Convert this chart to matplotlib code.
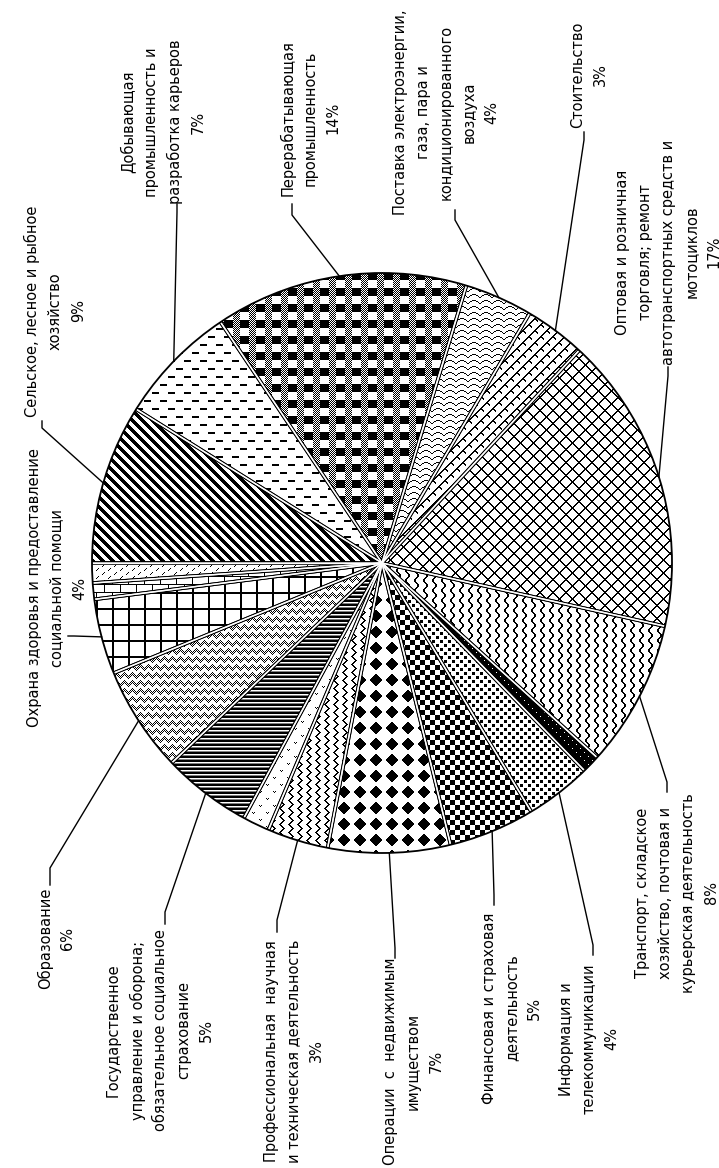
import numpy as np
import matplotlib
matplotlib.use("Agg")
from matplotlib import pyplot as plt
from matplotlib.patches import Circle

# shares of employment by activity, clockwise from 9 o'clock
names = [
    "Сельское, лесное и рыбное\nхозяйство",
    "Добывающая\nпромышленность и\nразработка карьеров",
    "Перерабатывающая\nпромышленность",
    "Поставка электроэнергии,\nгаза, пара и\nкондиционированного\nвоздуха",
    "Стоительство",
    "Оптовая и розничная\nторговля; ремонт\nавтотранспортных средств и\nмотоциклов",
    "Транспорт, складское\nхозяйство, почтовая и\nкурьерская деятельность",
    "Гостиницы и общественное питание",
    "Информация и\nтелекоммуникации",
    "Финансовая и страховая\nдеятельность",
    "Операции  с  недвижимым\nимуществом",
    "Профессиональная  научная\nи техническая деятельность",
    "Административная деятельность",
    "Государственное\nуправление и оборона;\nобязательное социальное\nстрахование",
    "Образование",
    "Охрана здоровья и предоставление\nсоциальной помощи",
    "Искусство, развлечения и отдых",
    "Прочие виды услуг",
]
values = [8.9, 6.7, 14.1, 3.8, 3.4, 16.6, 8.2, 1.0, 3.7, 4.8,
          6.8, 3.4, 1.5, 5.0, 5.9, 4.2, 0.9, 1.1]
labelled = [True, True, True, True, True, True, True, False, True, True,
            True, True, False, True, True, True, False, False]

W, H = 719, 1168
CX, CY, R = 382, 563, 290   # pie centre / radius in pixels


def px(x, y):
    return (x - CX) / R, (CY - y) / R


# label layout in pixels: text centre, elbow, attach point
layout = {
    0: ((55, 311), (42, 428), (42, 421)),
    1: ((163, 122), (177, 212), (177, 204)),
    2: ((310, 118), (292, 215), (292, 204)),
    3: ((446, 112), (455, 220), (455, 210)),
    4: ((589, 75), (584, 140), (584, 132)),
    5: ((668, 252), (668, 376), (668, 367)),
    6: ((677, 893), (667, 782), (667, 792)),
    8: ((589, 1039), (593, 945), (593, 955)),
    9: ((512, 1008), (494, 895), (494, 905)),
    10: ((413, 1061), (395, 948), (395, 958)),
    11: ((294, 1051), (277, 920), (277, 932)),
    13: ((160, 1030), (165, 912), (165, 924)),
    14: ((56, 938), (50, 868), (50, 885)),
    15: ((57, 588), (74, 636), (68, 636)),
}


# ---- fill patterns (1 = black) ----
def rows2tile(rows):
    return np.array([[1.0 if c == "#" else 0.5 if c == "+" else 0.0 for c in r] for r in rows])


def diag(p, w):
    i, j = np.indices((p, p))
    return ((j - i) % p < w).astype(float)


def dashes():
    t = np.zeros((16, 16))
    t[0:2, 0:7] = 1
    t[8:10, 8:15] = 1
    return t


def plaid():
    t = np.zeros((16, 16))
    t[0:8, 0:9] = 1
    i, j = np.indices((16, 7))
    t[:, 9:16] = ((i + j) % 2 == 0)
    return t


scallop = rows2tile([
    "....####....",
    "..##....##..",
    ".#........#.",
    "#..........#",
    "............",
    "............",
])


def brick_diag():
    i, j = np.indices((12, 12))
    main = (i + j) % 12 < 2
    tick = ((j - i) % 12 < 2) & ((i + j) % 12 < 7)
    return (main | tick).astype(float)


def cross(p):
    i, j = np.indices((p, p))
    return (((i + j) % p < 2) | ((i - j) % p < 2)).astype(float)


def wave(offs, w, th=1):
    t = np.zeros((len(offs), w))
    for r, o in enumerate(offs):
        for k in range(th):
            t[r, (o + k) % w] = 1
    return t


def dark_dots():
    t = np.ones((8, 8))
    t[0, 0] = 0
    t[4, 4] = 0
    return t


def confetti():
    t = np.zeros((8, 8))
    t[0:3, 0:3] = 1
    t[4:7, 4:7] = 1
    return t


def checker(c):
    i, j = np.indices((2 * c, 2 * c))
    return ((i // c + j // c) % 2 == 0).astype(float)


def diamonds():
    i, j = np.indices((16, 16))
    return ((np.abs(i - 7.5) + np.abs(j - 7.5)) <= 6).astype(float)


def sparse_v():
    t = np.zeros((14, 14))
    for (a, b) in [(0, 0), (1, 1), (0, 2), (7, 7), (8, 8), (7, 9)]:
        t[a, b] = 1
    return t


def hstripes():
    return np.array([[1.0], [1.0], [0.0], [0.5]]) * np.ones((4, 4))


def dotted_zigzag():
    i, j = np.indices((8, 8))
    z = np.abs((j % 8) - 4)
    band = (i - z) % 8 < 4
    return (band & ((i + j) % 2 == 0)).astype(float)


def grid(p, w):
    t = np.zeros((p, p))
    t[0:w, :] = 1
    t[:, 0:w] = 1
    return t


def hbrick():
    t = np.zeros((16, 16))
    t[0, :] = 1
    t[0:8, 0] = 1
    t[8, :] = 1
    t[8:16, 8] = 1
    return t


def dash_diag():
    t = np.zeros((8, 12))
    for (a, b) in [(0, 2), (1, 1), (2, 0), (4, 8), (5, 7), (6, 6)]:
        t[a, b] = 1
    return t


patterns = [
    diag(10, 5), dashes(), plaid(), scallop, brick_diag(), cross(13),
    wave([0, 0, 1, 2, 3, 3, 3, 2, 1, 0], 9, 2), dark_dots(), confetti(),
    checker(5), diamonds(), wave([0, 1, 2, 3, 4, 3, 2, 1], 9, 2), sparse_v(),
    hstripes(), dotted_zigzag(), grid(16, 2), hbrick(), dash_diag(),
]


def fill_image(tile):
    ty, tx = tile.shape
    big = np.tile(tile, (H // ty + 2, W // tx + 2))[:H, :W]
    return 1.0 - big


plt.rcParams["font.family"] = ["DejaVu Sans"]
fig = plt.figure(figsize=(W / 100, H / 100), dpi=100)
ax = fig.add_axes([0, 0, 1, 1])

wedges, _ = ax.pie(values, startangle=180, counterclock=False, radius=1, center=(0, 0),
                   wedgeprops=dict(facecolor="white", edgecolor="none"))

x0, y1 = px(0, 0)
x1, y0 = px(W, H)
ax.set_xlim(x0, x1)
ax.set_ylim(y0, y1)
ax.set_aspect("equal")
ax.set_axis_off()

for w, pat in zip(wedges, patterns):
    im = ax.imshow(fill_image(pat), cmap="gray", vmin=0, vmax=1, extent=(x0, x1, y0, y1),
                   origin="upper", interpolation="nearest", zorder=2)
    im.set_clip_path(w)

# double separators between slices
for w in wedges:
    for th in (w.theta1, w.theta2):
        a = np.deg2rad(th)
        ax.plot([0, np.cos(a)], [0, np.sin(a)], color="black", lw=2.6,
                solid_capstyle="butt", zorder=3)
        ax.plot([0, np.cos(a)], [0, np.sin(a)], color="white", lw=1.0,
                solid_capstyle="butt", zorder=4)
ax.add_patch(Circle((0, 0), 1, fill=False, ec="black", lw=1.3, zorder=5))

total = sum(values)
for k, w in enumerate(wedges):
    if not labelled[k]:
        continue
    (tx, ty), elbow, attach = layout[k]
    a = np.deg2rad((w.theta1 + w.theta2) / 2)
    ex, ey = px(*elbow)
    axx, axy = px(*attach)
    ax.plot([np.cos(a), ex, axx], [np.sin(a), ey, axy], color="black", lw=1.0, zorder=6)
    pct = round(values[k] / total * 100)
    ax.text(*px(tx, ty), f"{names[k]}\n{pct}%", rotation=90, ha="center", va="center",
            multialignment="center", fontsize=10.5, linespacing=1.65, zorder=7)

fig.savefig("out.png", dpi=100)
